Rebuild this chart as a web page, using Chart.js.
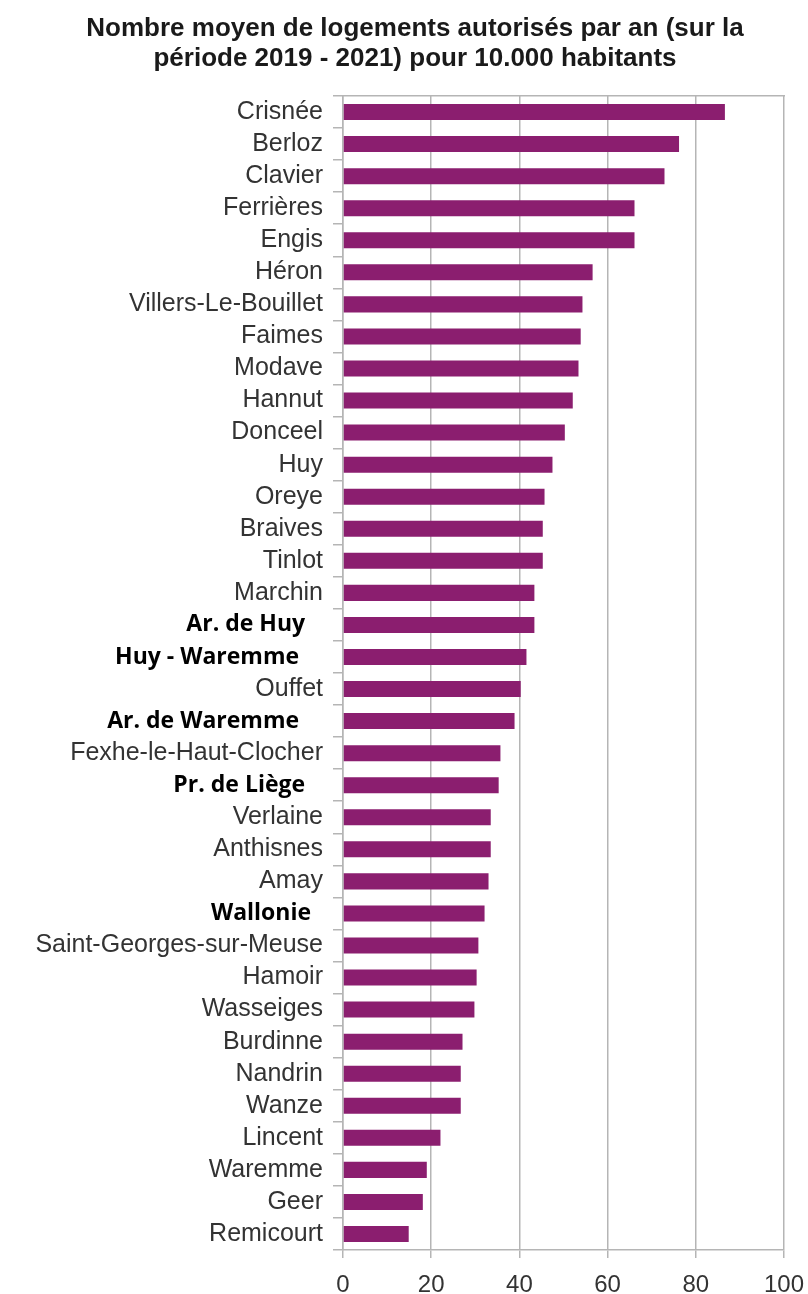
<!DOCTYPE html>
<html lang="fr">
<head>
<meta charset="utf-8">
<title>Logements autorisés pour 10.000 habitants</title>
<script src="https://cdn.jsdelivr.net/npm/chart.js@4.4.1/dist/chart.umd.min.js"></script>
<style>
  html, body { margin: 0; padding: 0; background: #ffffff; }
  #wrap { width: 808px; height: 1294px; }
</style>
</head>
<body>
<div id="wrap"><canvas id="chart" width="808" height="1294"></canvas></div>
<script>
// Communes and aggregate territories, ranked from highest to lowest
const categories = [
  'Crisnée', 'Berloz', 'Clavier', 'Ferrières', 'Engis', 'Héron',
  'Villers-Le-Bouillet', 'Faimes', 'Modave', 'Hannut', 'Donceel', 'Huy',
  'Oreye', 'Braives', 'Tinlot', 'Marchin', 'Ar. de Huy', 'Huy - Waremme',
  'Ouffet', 'Ar. de Waremme', 'Fexhe-le-Haut-Clocher', 'Pr. de Liège',
  'Verlaine', 'Anthisnes', 'Amay', 'Wallonie', 'Saint-Georges-sur-Meuse',
  'Hamoir', 'Wasseiges', 'Burdinne', 'Nandrin', 'Wanze', 'Lincent',
  'Waremme', 'Geer', 'Remicourt'
];

// Average number of authorised dwellings per year (2019-2021) per 10,000 inhabitants
const housingPer10k = [
  86.6, 76.2, 72.9, 66.1, 66.1, 56.6,
  54.3, 53.9, 53.4, 52.1, 50.3, 47.5,
  45.7, 45.3, 45.3, 43.4, 43.4, 41.6,
  40.3, 38.9, 35.7, 35.3,
  33.5, 33.5, 33.0, 32.1, 30.7,
  30.3, 29.8, 27.1, 26.7, 26.7, 22.1,
  19.0, 18.1, 14.9
];

// Territories that are not single communes (shown in bold)
const aggregates = ['Ar. de Huy', 'Huy - Waremme', 'Ar. de Waremme', 'Pr. de Liège', 'Wallonie'];

// Value axis ticks
const xTicks = [0, 20, 40, 60, 80, 100];

const titleLines = [
  'Nombre moyen de logements autorisés par an (sur la',
  'période 2019 - 2021) pour 10.000 habitants'
];

// Presentation settings
const barColor = '#8b1e6f';
const gridColor = '#b5b5b5';
const labelColor = '#333333';
const trailingSpaces = { 'Ar. de Huy': 3, 'Huy - Waremme': 4, 'Ar. de Waremme': 4, 'Pr. de Liège': 3, 'Wallonie': 2 };
const titleLeftInset = 46;   // title is centred over labels + plot, not the full canvas

const isAggregate = (i) => aggregates.includes(categories[i]);

// Shift the title block so its centre sits over the labelled plot
const titleInset = {
  id: 'titleInset',
  afterLayout(chart) {
    if (chart.titleBlock) chart.titleBlock.left = titleLeftInset;
  }
};

new Chart(document.getElementById('chart'), {
  type: 'bar',
  data: {
    labels: categories,
    datasets: [{
      data: housingPer10k,
      backgroundColor: barColor,
      borderWidth: 0,
      barPercentage: 0.5,
      categoryPercentage: 1.0
    }]
  },
  plugins: [titleInset],
  options: {
    indexAxis: 'y',
    responsive: false,
    animation: false,
    devicePixelRatio: 1,
    layout: { padding: { left: 0, right: 24, top: 0, bottom: 0 } },
    plugins: {
      legend: { display: false },
      tooltip: { enabled: false },
      title: {
        display: true,
        text: titleLines,
        color: '#1a1a1a',
        font: { family: '"Liberation Sans", Arial, sans-serif', size: 26, weight: 'bold', lineHeight: 30 / 26 },
        padding: { top: 14, bottom: 22 }
      }
    },
    scales: {
      x: {
        type: 'linear',
        position: 'bottom',
        min: 0,
        max: 100,
        afterBuildTicks: (scale) => { scale.ticks = xTicks.map(v => ({ value: v })); },
        afterFit: (scale) => { scale.height = 44; scale.paddingLeft = 0; scale.paddingRight = 0; },
        grid: { color: gridColor, lineWidth: 1.5, tickLength: 8, drawTicks: true },
        border: { display: true, color: gridColor, width: 1.5 },
        ticks: {
          color: labelColor,
          padding: 15,
          font: { family: '"Liberation Sans", Arial, sans-serif', size: 24, lineHeight: 1 }
        }
      },
      xTop: {
        type: 'linear',
        position: 'top',
        min: 0,
        max: 100,
        afterFit: (scale) => { scale.height = 0; scale.paddingLeft = 0; scale.paddingRight = 0; },
        grid: { display: false, drawTicks: false },
        border: { display: true, color: gridColor, width: 1.5 },
        ticks: { display: false }
      },
      y: {
        type: 'category',
        position: 'left',
        afterFit: (scale) => { scale.width = 343; },
        grid: { offset: true, drawOnChartArea: false, drawTicks: true, tickLength: 10, color: gridColor, lineWidth: 1.5 },
        border: { display: true, color: gridColor, width: 1.5 },
        ticks: {
          padding: 10,
          autoSkip: false,
          callback: function (value, index) {
            const name = categories[index];
            return isAggregate(index) ? name + ' '.repeat(trailingSpaces[name] || 0) : name;
          },
          color: (ctx) => isAggregate(ctx.index) ? '#000000' : labelColor,
          font: (ctx) => isAggregate(ctx.index)
            ? { family: '"Open Sans", "Noto Sans", sans-serif', size: 23, weight: 'bold' }
            : { family: '"Liberation Sans", Arial, sans-serif', size: 25, weight: 'normal' }
        }
      }
    }
  }
});
</script>
</body>
</html>
